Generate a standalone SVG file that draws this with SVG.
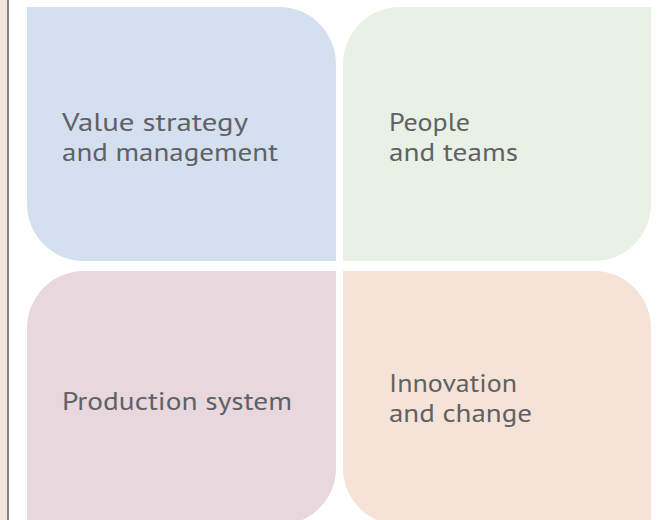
<svg xmlns="http://www.w3.org/2000/svg" width="665" height="520" viewBox="0 0 665 520">
<style>
.lbl{font-family:"PT Sans","Open Sans","Noto Sans",sans-serif;font-size:26px;fill:#5f6164}
</style>
<rect width="665" height="520" fill="#ffffff"/>
<rect x="0" y="0" width="7" height="520" fill="#f6e6da"/>
<rect x="7" y="0" width="2" height="520" fill="#878380"/>
<g id="value">
<path d="M27,7 H279 A57,57 0 0 1 336,64 V261 H84 A57,57 0 0 1 27,204 Z" fill="#d4dff0"/>
<text class="lbl" x="62" y="131" textLength="186" lengthAdjust="spacingAndGlyphs">Value strategy</text>
<text class="lbl" x="62" y="161" textLength="216" lengthAdjust="spacingAndGlyphs">and management</text>
</g>
<g id="people">
<path d="M400,7 H651 V204 A57,57 0 0 1 594,261 H343 V64 A57,57 0 0 1 400,7 Z" fill="#e9f1e6"/>
<text class="lbl" x="389" y="131" textLength="81" lengthAdjust="spacingAndGlyphs">People</text>
<text class="lbl" x="389" y="161" textLength="129" lengthAdjust="spacingAndGlyphs">and teams</text>
</g>
<g id="production">
<path d="M84,271 H336 V468 A57,57 0 0 1 279,525 H27 V328 A57,57 0 0 1 84,271 Z" fill="#e8d7dd"/>
<text class="lbl" x="62" y="410" textLength="230" lengthAdjust="spacingAndGlyphs">Production system</text>
</g>
<g id="innovation">
<path d="M343,271 H594 A57,57 0 0 1 651,328 V525 H400 A57,57 0 0 1 343,468 Z" fill="#f6e3d7"/>
<text class="lbl" x="389" y="392" textLength="128" lengthAdjust="spacingAndGlyphs">Innovation</text>
<text class="lbl" x="389" y="422" textLength="143" lengthAdjust="spacingAndGlyphs">and change</text>
</g>
<g id="connectors"></g>
</svg>
